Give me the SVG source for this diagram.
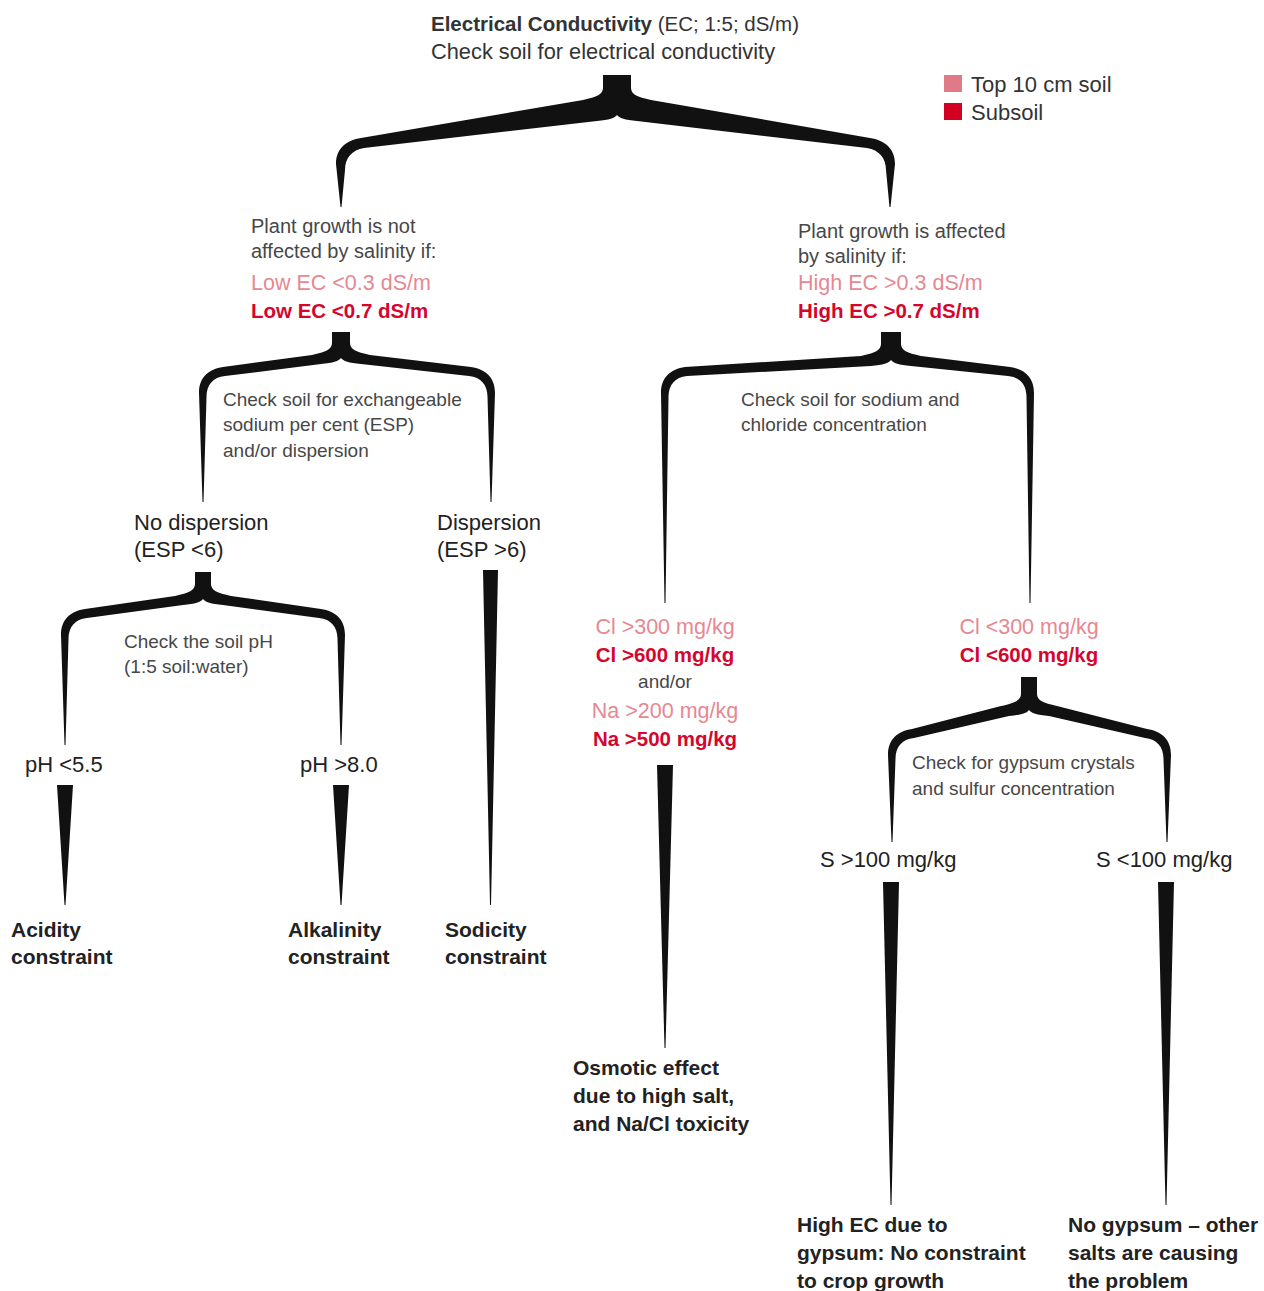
<svg xmlns="http://www.w3.org/2000/svg" width="1264" height="1291" viewBox="0 0 1264 1291">
<style>
text{font-family:"Liberation Sans",Arial,sans-serif}
.conn{fill:#111;stroke:none}
.title{fill:#333}
.desc{font-size:19px;fill:#474747}
.desc2{font-size:20px;fill:#474747}
.cond{font-size:22px;fill:#222}
.pink{font-size:21.5px;fill:#E68892}
.red{font-size:20.5px;font-weight:bold;fill:#D5062D}
.term{font-size:21px;font-weight:bold;fill:#222}
.legend{font-size:22px;fill:#333}
</style>
<rect width="1264" height="1291" fill="#fff"/>

<g id="connectors">
  <path class="conn" d="M603,75 L603,88 C603,94 597,97 583,100 L361,138 C347,140 336,148 336,164 L340.5,207 L341.5,207 L345,170 C345,158 352,150 364,148 L597,121 C609,120 615,118 617,115 C619,118 625,120 637,121 L867,148 C879,150 886,158 886,170 L889.5,207 L890.5,207 L895,164 C895,148 884,140 870,138 L651,100 C637,97 631,94 631,88 L631,75 Z"/>
  <path class="conn" d="M332,332 L332,343 C332,349 326,352 312,355 L223,367 C209,369 199,377 199,393 L202.5,502 L203.5,502 L206.5,397 C206.5,385 213,377 225,376 L321,364 C333,363 339,361 341,358 C343,361 349,363 361,364 L469,376 C481,377 487.5,385 487.5,397 L490.5,502 L491.5,502 L495,393 C495,377 485,369 471,367 L370,355 C356,352 350,349 350,343 L350,332 Z"/>
  <path class="conn" d="M881,332 L881,344 C881,350 875,353 861,356 L685,367 C671,369 661,377 661,393 L664.5,603 L665.5,603 L668.5,397 C668.5,385 675,377 687,376 L871,366 C883,365 889,363 891,360 C893,363 899,365 911,366 L1008,376 C1020,377 1026.5,385 1026.5,397 L1029.5,603 L1030.5,603 L1034,393 C1034,377 1024,369 1010,367 L921,356 C907,353 901,350 901,344 L901,332 Z"/>
  <path class="conn" d="M195,572 L195,584 C195,590 189,593 175,596 L85,609 C71,611 61,619 61,635 L64.5,745 L65.5,745 L68.5,639 C68.5,627 75,619 87,618 L183,605 C195,604 201,602 203,599 C205,602 211,604 223,605 L319,618 C331,619 337.5,627 337.5,639 L340.5,745 L341.5,745 L345,635 C345,619 335,611 321,609 L231,596 C217,593 211,590 211,584 L211,572 Z"/>
  <path class="conn" d="M1021,677 L1021,694 C1021,700 1015,703 1001,706 L912,729 C898,731 888,739 888,755 L891.5,842 L892.5,842 L895.5,759 C895.5,747 902,739 914,738 L1009,716 C1021,715 1027,713 1029,710 C1031,713 1037,715 1049,716 L1145,738 C1157,739 1163.5,747 1163.5,759 L1166.5,842 L1167.5,842 L1171,755 C1171,739 1161,731 1147,729 L1057,706 C1043,703 1037,700 1037,694 L1037,677 Z"/>
  <polygon class="conn" points="57,785 73,785 65.5,905 64.5,905"/>
  <polygon class="conn" points="333,785 349,785 341.5,905 340.5,905"/>
  <polygon class="conn" points="483,570 498,570 491,905 490,905"/>
  <polygon class="conn" points="657,765 673,765 665.5,1048 664.5,1048"/>
  <polygon class="conn" points="883,882 899,882 891.5,1205 890.5,1205"/>
  <polygon class="conn" points="1158,882 1174,882 1166.5,1205 1165.5,1205"/>
</g>

<g id="n-title">
  <text class="title" x="431" y="31" font-size="20.5"><tspan font-weight="bold">Electrical Conductivity</tspan> (EC; 1:5; dS/m)</text>
  <text class="title" x="431" y="59" font-size="21.8">Check soil for electrical conductivity</text>
</g>

<g id="n-legend">
  <rect x="944" y="75" width="18" height="17" fill="#E07A86"/>
  <rect x="944" y="103" width="18" height="17" fill="#D40022"/>
  <text class="legend" x="971" y="92">Top 10 cm soil</text>
  <text class="legend" x="971" y="120">Subsoil</text>
</g>

<g id="n-not-affected">
  <text class="desc2" x="251" y="233">Plant growth is not</text>
  <text class="desc2" x="251" y="258">affected by salinity if:</text>
  <text class="pink" x="251" y="290">Low EC &lt;0.3 dS/m</text>
  <text class="red" x="251" y="318">Low EC &lt;0.7 dS/m</text>
</g>

<g id="n-affected">
  <text class="desc2" x="798" y="238">Plant growth is affected</text>
  <text class="desc2" x="798" y="263">by salinity if:</text>
  <text class="pink" x="798" y="290">High EC &gt;0.3 dS/m</text>
  <text class="red" x="798" y="318">High EC &gt;0.7 dS/m</text>
</g>

<g id="n-esp-check">
  <text class="desc" x="223" y="406">Check soil for exchangeable</text>
  <text class="desc" x="223" y="431">sodium per cent (ESP)</text>
  <text class="desc" x="223" y="457">and/or dispersion</text>
</g>

<g id="n-nacl-check">
  <text class="desc" x="741" y="406">Check soil for sodium and</text>
  <text class="desc" x="741" y="431">chloride concentration</text>
</g>

<g id="n-no-dispersion">
  <text class="cond" x="134" y="530">No dispersion</text>
  <text class="cond" x="134" y="557">(ESP &lt;6)</text>
</g>

<g id="n-dispersion">
  <text class="cond" x="437" y="530">Dispersion</text>
  <text class="cond" x="437" y="557">(ESP &gt;6)</text>
</g>

<g id="n-ph-check">
  <text class="desc" x="124" y="648">Check the soil pH</text>
  <text class="desc" x="124" y="673">(1:5 soil:water)</text>
</g>

<g id="n-ph-low">
  <text class="cond" x="25" y="772">pH &lt;5.5</text>
</g>

<g id="n-ph-high">
  <text class="cond" x="300" y="772">pH &gt;8.0</text>
</g>

<g id="n-acidity">
  <text class="term" x="11" y="937">Acidity</text>
  <text class="term" x="11" y="964">constraint</text>
</g>

<g id="n-alkalinity">
  <text class="term" x="288" y="937">Alkalinity</text>
  <text class="term" x="288" y="964">constraint</text>
</g>

<g id="n-sodicity">
  <text class="term" x="445" y="937">Sodicity</text>
  <text class="term" x="445" y="964">constraint</text>
</g>

<g id="n-cl-high">
  <text class="pink" x="665" y="634" text-anchor="middle">Cl &gt;300 mg/kg</text>
  <text class="red" x="665" y="662" text-anchor="middle">Cl &gt;600 mg/kg</text>
  <text class="desc" x="665" y="688" text-anchor="middle">and/or</text>
  <text class="pink" x="665" y="718" text-anchor="middle">Na &gt;200 mg/kg</text>
  <text class="red" x="665" y="746" text-anchor="middle">Na &gt;500 mg/kg</text>
</g>

<g id="n-cl-low">
  <text class="pink" x="1029" y="634" text-anchor="middle">Cl &lt;300 mg/kg</text>
  <text class="red" x="1029" y="662" text-anchor="middle">Cl &lt;600 mg/kg</text>
</g>

<g id="n-gypsum-check">
  <text class="desc" x="912" y="769">Check for gypsum crystals</text>
  <text class="desc" x="912" y="795">and sulfur concentration</text>
</g>

<g id="n-s-high">
  <text class="cond" x="820" y="867">S &gt;100 mg/kg</text>
</g>

<g id="n-s-low">
  <text class="cond" x="1096" y="867">S &lt;100 mg/kg</text>
</g>

<g id="n-osmotic">
  <text class="term" x="573" y="1075">Osmotic effect</text>
  <text class="term" x="573" y="1103">due to high salt,</text>
  <text class="term" x="573" y="1131">and Na/Cl toxicity</text>
</g>

<g id="n-gypsum-ok">
  <text class="term" x="797" y="1232">High EC due to</text>
  <text class="term" x="797" y="1260">gypsum: No constraint</text>
  <text class="term" x="797" y="1288">to crop growth</text>
</g>

<g id="n-other-salts">
  <text class="term" x="1068" y="1232">No gypsum – other</text>
  <text class="term" x="1068" y="1260">salts are causing</text>
  <text class="term" x="1068" y="1288">the problem</text>
</g>
</svg>
